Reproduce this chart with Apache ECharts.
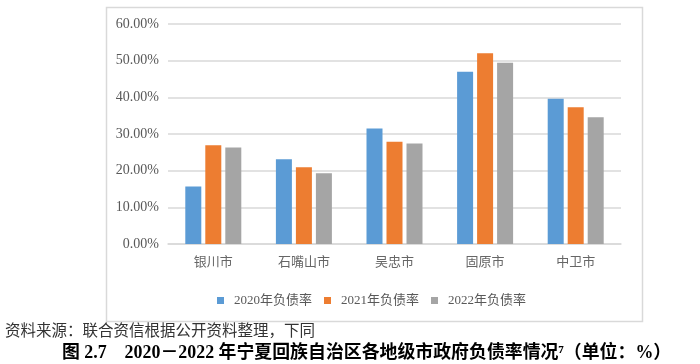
<!DOCTYPE html>
<html><head><meta charset="utf-8">
<script src="https://cdn.jsdelivr.net/npm/echarts@6/dist/echarts.min.js"></script>
<style>html,body{margin:0;padding:0;background:#fff}#c{width:700px;height:364px}</style>
</head><body><div id="c"></div>
<script>
var categories = ['银川市','石嘴山市','吴忠市','固原市','中卫市'];
var seriesNames = ['2020年负债率','2021年负债率','2022年负债率'];
var v2020 = [15.7, 23.1, 31.5, 47.0, 39.6];
var v2021 = [26.9, 20.9, 27.9, 52.0, 37.3];
var v2022 = [26.3, 19.3, 27.4, 49.4, 34.6];
var colors = ['#5B9BD5','#ED7D31','#A5A5A5'];
var sourceText = '资料来源：联合资信根据公开资料整理，下同';
var captionText = '图 2.7　2020－2022 年宁夏回族自治区各地级市政府负债率情况⁷（单位：%）';

var serif = '"Liberation Serif","Noto Sans CJK SC",serif';
var chart = echarts.init(document.getElementById('c'), null, {renderer:'canvas'});
var data = [v2020, v2021, v2022];
chart.setOption({
  animation: false,
  color: colors,
  graphic: [{
    type: 'rect', left: 104, top: 5, silent: true,
    shape: {width: 536, height: 314},
    style: {fill: 'none', stroke: '#d9d9d9', lineWidth: 1.5}
  }],
  title: [
    {text: sourceText, left: 0, top: 317, textStyle: {fontFamily: '"Noto Sans CJK SC"', fontSize: 15.5, fontWeight: 'normal', color: '#333'}},
    {text: captionText, left: 57, top: 339, textStyle: {fontFamily: '"Liberation Serif","Noto Sans CJK SC"', fontSize: 17.9, fontWeight: 'bold', color: '#000'}}
  ],
  legend: {
    left: 212, top: 289, icon: 'rect', itemWidth: 7, itemHeight: 7, itemGap: 12,
    textStyle: {fontFamily: serif, fontSize: 13, color: '#595959', padding: [0,0,0,5]},
    data: seriesNames
  },
  grid: {left: 168, right: 79, top: 24, bottom: 120, containLabel: false},
  xAxis: {
    type: 'category', data: categories,
    axisLine: {lineStyle: {color: '#d9d9d9', width: 1.5}},
    axisTick: {show: false},
    axisLabel: {fontFamily: '"Noto Sans CJK SC"', fontSize: 13, color: '#666', margin: 11}
  },
  yAxis: {
    type: 'value', min: 0, max: 60, interval: 10,
    axisLine: {show: false}, axisTick: {show: false},
    splitLine: {lineStyle: {color: '#d9d9d9', width: 1.5}},
    axisLabel: {fontFamily: serif, fontSize: 14, color: '#595959', margin: 9,
      formatter: function(v){ return v.toFixed(2) + '%'; }}
  },
  series: seriesNames.map(function(n, i){
    return {name: n, type: 'bar', data: data[i], barWidth: 16, barGap: '25%',
      itemStyle: {color: colors[i]}};
  })
});
</script></body></html>
